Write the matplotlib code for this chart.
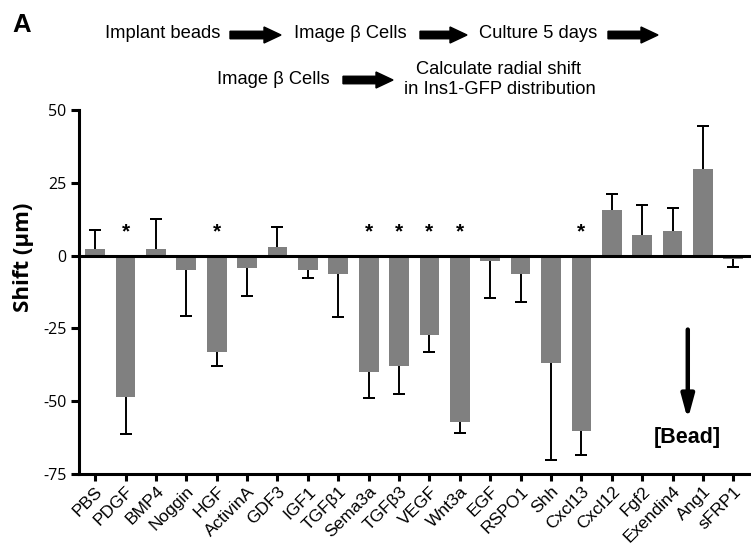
import matplotlib
matplotlib.use("Agg")
import matplotlib.pyplot as plt
import matplotlib.patches as mpatches
import numpy as np

categories = ["PBS", "PDGF", "BMP4", "Noggin", "HGF", "ActivinA", "GDF3", "IGF1",
              "TGFβ1", "Sema3a", "TGFβ3", "VEGF", "Wnt3a", "EGF", "RSPO1", "Shh",
              "Cxcl13", "Cxcl12", "Fgf2", "Exendin4", "Ang1", "sFRP1"]
shift = [2.4, -48.4, 2.4, -4.9, -33.2, -4.3, 3.1, -5.1, -6.3, -40.1, -38.0, -27.2,
         -57.3, -2.0, -6.4, -36.9, -60.3, 15.8, 7.1, 8.3, 29.7, -1.2]
sem = [6.4, 13.0, 10.3, 15.7, 4.8, 9.5, 6.8, 2.6, 14.7, 8.7, 9.5, 5.9,
       3.7, 12.5, 9.6, 33.4, 8.3, 5.2, 10.4, 8.0, 14.8, 2.6]
significant = ["PDGF", "HGF", "Sema3a", "TGFβ3", "VEGF", "Wnt3a", "Cxcl13"]
yticks = [50, 25, 0, -25, -50, -75]

W, H = 751, 548
fig = plt.figure(figsize=(W / 100, H / 100), dpi=100)

def fx(px):
    return px / W

def fy(py):
    return 1 - py / H

ax = fig.add_axes([fx(79), fy(474), fx(751) - fx(79), fy(110) - fy(474)])
x = np.arange(len(categories))
vals = np.array(shift)
errs = np.array(sem)
tips = np.where(vals < 0, vals - errs, vals + errs)

ax.bar(x, vals, width=0.65, color="#808080", zorder=2)
ax.vlines(x, vals, tips, color="black", lw=1.4, zorder=3)
ax.errorbar(x, tips, yerr=np.zeros_like(tips), fmt="none", ecolor="black",
            elinewidth=0, capsize=4.5, capthick=1.4, zorder=3)
ax.axhline(0, color="black", lw=2.2, zorder=4)

for c in significant:
    i = categories.index(c)
    ax.text(i, 8.2, "*", ha="center", va="center", fontsize=15,
            family="Liberation Sans", fontweight="bold")

ax.set_xlim(-0.53, 21.58)
ax.set_ylim(-75, 50)
ax.set_yticks(yticks)
ax.set_yticklabels([str(v) for v in yticks], family="Open Sans", fontsize=11.5)
ax.set_xticks(x)
ax.set_xticklabels(categories, rotation=45, ha="right", rotation_mode="anchor",
                   family="Liberation Sans", fontsize=12.5)
for s in ["top", "right"]:
    ax.spines[s].set_visible(False)
for s in ["left", "bottom"]:
    ax.spines[s].set_linewidth(2.2)
ax.tick_params(axis="y", length=6, width=2.2, pad=3)
ax.tick_params(axis="x", length=5, width=2.2, pad=2)

# [Bead] arrow
ax.annotate("", xy=(19.5, -56.3), xytext=(19.5, -25.4),
            arrowprops=dict(arrowstyle="-|>,head_width=0.38,head_length=1.4",
                            lw=3.2, color="black", shrinkA=0, shrinkB=0))
ax.text(19.5, -62.6, "[Bead]", ha="center", va="center", fontsize=15.5,
        family="Liberation Sans", fontweight="bold")

# y label
fig.text(fx(24), fy(257), "Shift (μm)", rotation=90, ha="center", va="center",
         fontsize=16, fontweight="bold", family="Open Sans")

# Panel letter
fig.text(fx(12), fy(25), "A", ha="left", va="center", fontsize=18.5,
         fontweight="bold", family="Liberation Sans")

# Workflow text
tkw = dict(fontsize=13.2, family="Liberation Sans", va="center")
fig.text(fx(105), fy(34), "Implant beads", ha="left", **tkw)
fig.text(fx(294), fy(34), "Image β Cells", ha="left", **tkw)
fig.text(fx(479), fy(34), "Culture 5 days", ha="left", **tkw)
fig.text(fx(217), fy(79), "Image β Cells", ha="left", **tkw)
fig.text(fx(498), fy(70), "Calculate radial shift", ha="center", **tkw)
fig.text(fx(500), fy(90), "in Ins1-GFP distribution", ha="center", **tkw)

def block_arrow(x0, x1, yc):
    arr = mpatches.FancyArrow(x0 / 100, (H - yc) / 100, (x1 - x0) / 100, 0,
                              width=0.075, head_width=0.16, head_length=0.17,
                              length_includes_head=True, color="black",
                              transform=fig.dpi_scale_trans)
    fig.patches.append(arr)

block_arrow(230, 281, 35)
block_arrow(420, 467, 35)
block_arrow(608, 658, 35)
block_arrow(343, 393, 80)

fig.savefig("out.png", dpi=100)
